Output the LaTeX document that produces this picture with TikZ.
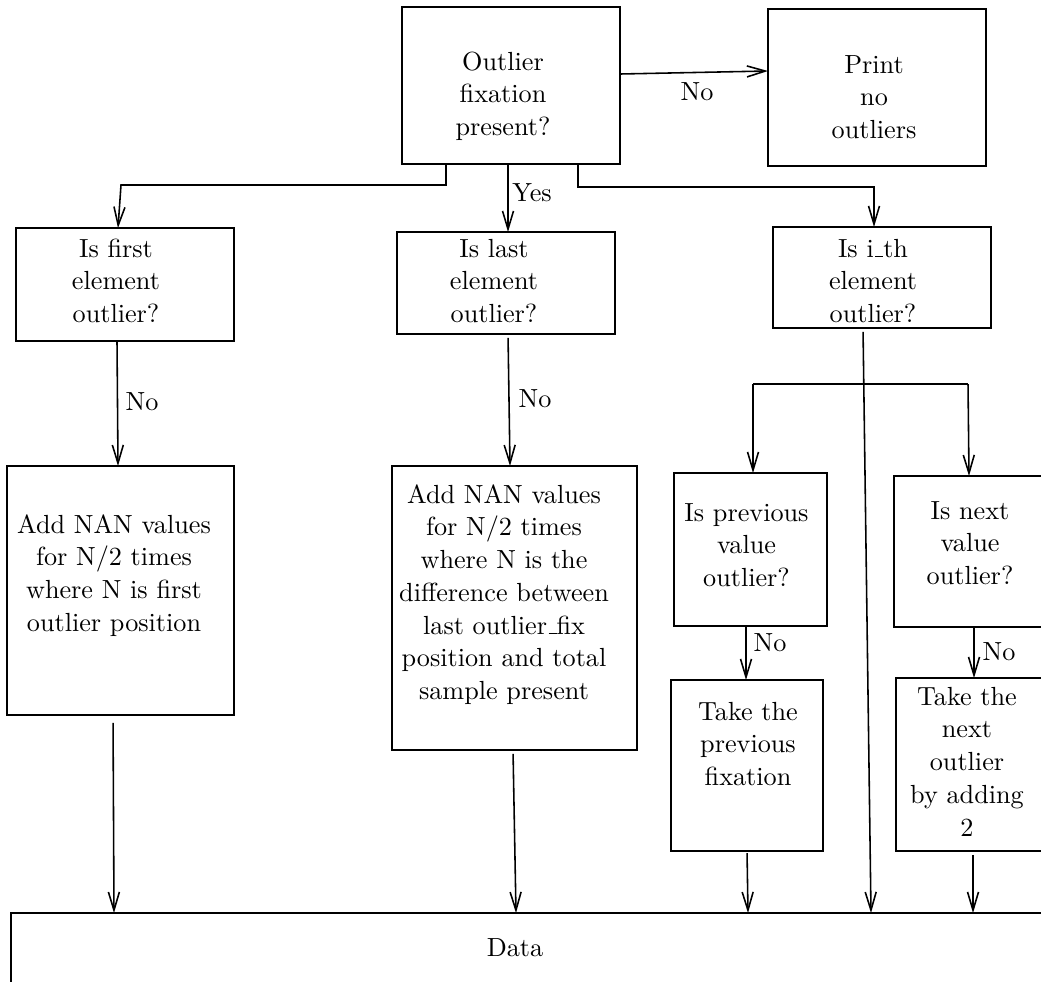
\documentclass[tikz,border=0pt]{standalone}
\usetikzlibrary{arrows.meta}
% short baseline rule used as the underscore in the labels
\newcommand\lowbar{\leavevmode\kern.06em\vbox{\hrule width.3em}}
\begin{document}
\begin{tikzpicture}[x=0.3817pt,y=-0.3817pt,
  box/.style={draw, line width=0.65pt, inner sep=0pt, outer sep=0pt},
  txt/.style={align=center, font=\fontsize{10}{12.5}\selectfont, inner sep=0pt, anchor=base},
  lbl/.style={font=\fontsize{10}{12.5}\selectfont, inner sep=0pt},
  arr/.style={line width=0.6pt, -{Straight Barb[length=7pt,width=4.2pt]}},
  link/.style={line width=0.6pt}]
\useasboundingbox (0,0) rectangle (1041,981);
\clip (0,0) rectangle (1041,981);

% boxes
\node[box, minimum width=83.21pt, minimum height=59.93pt] (q0) at (511,85.5) {};
\node[box, minimum width=83.21pt, minimum height=59.93pt] (print) at (877,87.5) {};
\node[box, minimum width=83.21pt, minimum height=43.13pt] (first) at (125,284.5) {};
\node[box, minimum width=83.21pt, minimum height=38.93pt] (last) at (506,283) {};
\node[box, minimum width=83.21pt, minimum height=38.55pt] (ith) at (882,277.5) {};
\node[box, minimum width=86.65pt, minimum height=95.04pt] (add1) at (120.5,590.5) {};
\node[box, minimum width=93.52pt, minimum height=108.40pt] (add2) at (514.5,608) {};
\node[box, minimum width=58.40pt, minimum height=58.40pt] (prev) at (750.5,549.5) {};
\node[box, minimum width=58.02pt, minimum height=57.64pt] (next) at (970,551.5) {};
\node[box, minimum width=58.02pt, minimum height=65.27pt] (takeprev) at (747,765.5) {};
\node[box, minimum width=57.26pt, minimum height=66.03pt] (takenext) at (971,764.5) {};
\node[box, minimum width=404.22pt, minimum height=37.02pt] (data) at (540.5,961.5) {};

% box texts (anchored at the baseline of the last line)
\node[txt] (tq0) at (503,135.5) {Outlier\\fixation\\present?};
\node[txt] (tprint) at (874,138.5) {Print\\no\\outliers};
\node[txt] (tfirst) at (116,322.5) {Is first\\element\\outlier?};
\node[txt] (tlast) at (494,322.5) {Is last\\element\\outlier?};
\node[txt] (tith) at (873,322.5) {Is i\lowbar th\\element\\outlier?};
\node[txt] (tadd1) at (114,631.25) {Add NAN values\\for N/2 times\\where N is first\\outlier position};
\node[txt] (tadd2) at (504,699.5) {Add NAN values\\for N/2 times\\where N is the\\difference between\\last outlier\lowbar fix\\position and total\\sample present};
\node[txt] (tprev) at (746.5,586.5) {Is previous\\value\\outlier?};
\node[txt] (tnext) at (970,584.5) {Is next\\value\\outlier?};
\node[txt] (ttprev) at (748,785.5) {Take the\\previous\\fixation};
\node[txt] (ttnext) at (967,836) {Take the\\next\\outlier\\by adding\\2};
\node[lbl] (tdata) at (515,948) {Data};

% helper points for the connectors
\coordinate (kL) at (446,185);
\coordinate (kL2) at (121,185);
\coordinate (aL) at (118,0);
\coordinate (aY) at (508,0);
\coordinate (kR) at (578,187);
\coordinate (kR2) at (874,187);
\coordinate (aF1) at (117,0);
\coordinate (aF2) at (118,0);
\coordinate (aS1) at (508,0);
\coordinate (aS2) at (510,0);
\coordinate (aI1) at (863,0);
\coordinate (aI2) at (871,0);
\coordinate (bL) at (753,384);
\coordinate (bR) at (968,384);
\coordinate (bR2) at (969,0);
\coordinate (aP) at (746,0);
\coordinate (aN) at (974,0);
\coordinate (d1a) at (113,0);
\coordinate (d1b) at (114,0);
\coordinate (d2a) at (513,0);
\coordinate (d2b) at (516,0);
\coordinate (d3a) at (747,0);
\coordinate (d3b) at (748,0);
\coordinate (d4) at (973,0);

% connectors
\draw[arr] ([yshift=4.39pt]q0.east) -- ([yshift=6.30pt]print.west);
\node[lbl] (no0) at (697,92) {No};

\draw[arr] (q0.south -| kL) -- (kL) -- (kL2) -- (first.north -| aL);
\draw[arr] (q0.south -| aY) -- (last.north -| aY);
\node[lbl] (yes) at (532,193) {Yes};
\draw[arr] (q0.south -| kR) -- (kR) -- (kR2) -- (ith.north -| kR2);

\draw[arr] (first.south -| aF1) -- (add1.north -| aF2);
\node[lbl] (no1) at (142,402) {No};
\draw[arr, shorten <=1.5pt] (last.south -| aS1) -- (add2.north -| aS2);
\node[lbl] (no2) at (535,399) {No};

\draw[arr, shorten <=1.5pt] (ith.south -| aI1) -- (data.north -| aI2);
\draw[link] (bL) -- (bR);
\draw[arr] (bL) -- (prev.north -| bL);
\draw[arr] (bR) -- (next.north -| bR2);

\draw[arr] (prev.south -| aP) -- (takeprev.north -| aP);
\node[lbl] (no3) at (770,643) {No};
\draw[arr] (next.south -| aN) -- (takenext.north -| aN);
\node[lbl] (no4) at (999,652) {No};

\draw[arr, shorten <=3pt] (add1.south -| d1a) -- (data.north -| d1b);
\draw[arr, shorten <=1.5pt] (add2.south -| d2a) -- (data.north -| d2b);
\draw[arr, shorten <=0.8pt] (takeprev.south -| d3a) -- (data.north -| d3b);
\draw[arr, shorten <=1.5pt] (takenext.south -| d4) -- (data.north -| d4);
\end{tikzpicture}
\end{document}
